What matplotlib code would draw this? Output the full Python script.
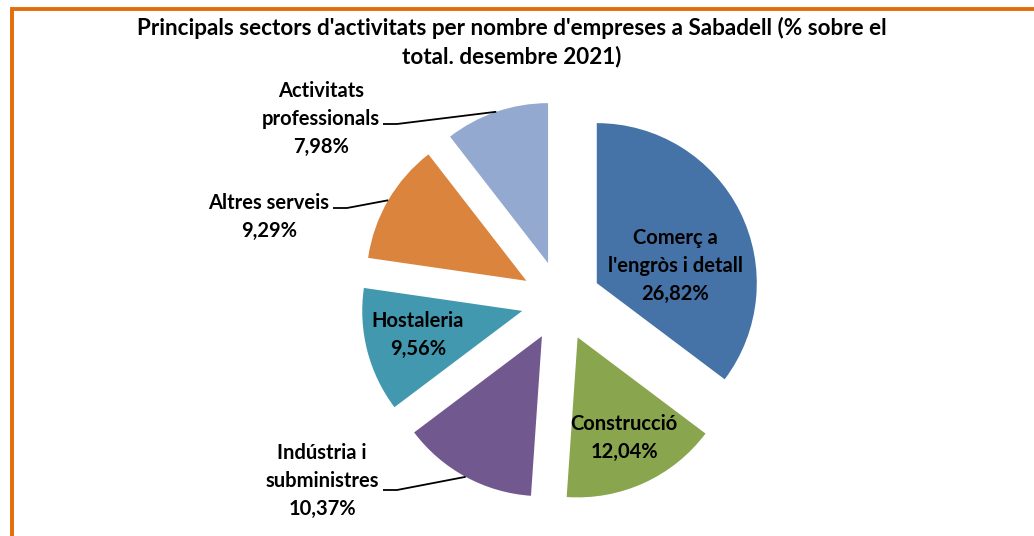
import numpy as np
import matplotlib
matplotlib.use("Agg")
import matplotlib.pyplot as plt
from matplotlib.patches import Rectangle

# ---- data ----
sectors = ["Comerç a\nl'engròs i detall", "Construcció", "Indústria i\nsubministres",
           "Hostaleria", "Altres serveis", "Activitats\nprofessionals"]
values = [26.82, 12.04, 10.37, 9.56, 9.29, 7.98]
value_labels = ["26,82%", "12,04%", "10,37%", "9,56%", "9,29%", "7,98%"]
colors = ["#4572A7", "#89A54E", "#71588F", "#4198AF", "#DB843D", "#93A9CF"]
title = "Principals sectors d'activitats per nombre d'empreses a Sabadell (% sobre el\ntotal. desembre 2021)"

# ---- layout (pixel coordinates, y up) ----
W, H = 1034, 536
center = (561, H - 301)
radius = 160
explode_dist = 40  # matplotlib's explode is in data units
# label centre positions
label_pos = [(675, 270), (624, 98), (322, 55), (418, 201), (269, 319), (321, 417)]
# leader-line start (None -> inside label, no leader)
leader_start = [None, None, (383, 46), None, (333, 328), (383, 412)]

plt.rcParams['font.family'] = ['Lato', 'DejaVu Sans']

fig = plt.figure(figsize=(W / 100, H / 100), dpi=100)
ax = fig.add_axes([0, 0, 1, 1])

wedges, _ = ax.pie(values, colors=colors, startangle=90, counterclock=False,
                   explode=[explode_dist] * len(values), center=center, radius=radius,
                   wedgeprops=dict(linewidth=0))
ax.set_xlim(0, W)
ax.set_ylim(0, H)
ax.set_aspect('equal')
ax.axis('off')

for i, w in enumerate(wedges):
    lx, ly = label_pos[i]
    ax.text(lx, ly, sectors[i] + "\n" + value_labels[i], ha='center', va='center',
            fontsize=14.5, fontweight='bold', color='black', linespacing=1.47, zorder=5)
    if leader_start[i] is not None:
        mid = np.deg2rad((w.theta1 + w.theta2) / 2)
        cx, cy = w.center
        ex = cx + w.r * np.cos(mid)
        ey = cy + w.r * np.sin(mid)
        sx, sy = leader_start[i]
        ax.plot([sx, sx + 14, ex], [sy, sy, ey], color='black', lw=1.3, zorder=4,
                solid_capstyle='butt')

fig.text(512 / W, 1 - 42 / H, title, ha='center', va='center', fontsize=16.2,
         fontweight='bold', linespacing=1.35)

# orange frame (left and top visible)
fig.patches.append(Rectangle((12 / W, -0.1), 1.2, 1.1 - 8.5 / H, transform=fig.transFigure,
                             fill=False, edgecolor='#E46C0A', linewidth=2.8))

fig.savefig("out.png", dpi=100, facecolor='white')
